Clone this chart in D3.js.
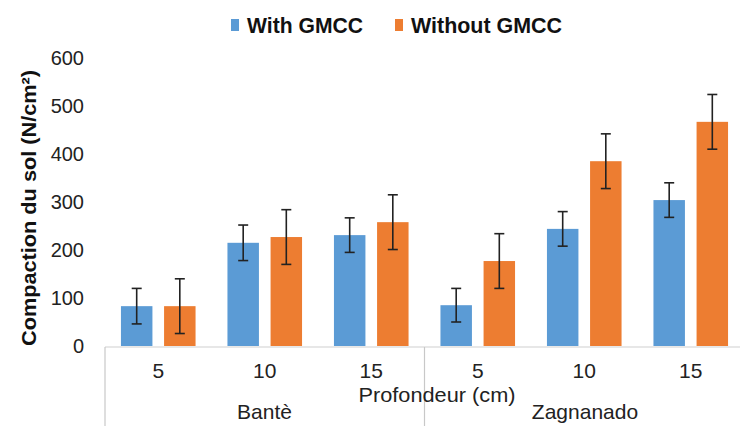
<!DOCTYPE html>
<html><head><meta charset="utf-8">
<script src="https://cdn.jsdelivr.net/npm/d3@7"></script>
<style>body{margin:0;background:#fff}svg{display:block}</style>
</head><body>
<script>
const sites = ["Bantè", "Zagnanado"];
const depths = ["5", "10", "15"];
const series = ["With GMCC", "Without GMCC"];
const withGMCC = [83, 215, 231, 85, 244, 304];
const withoutGMCC = [83, 227, 258, 177, 385, 467];
const errWith = [37, 37, 36, 35, 36, 36];
const errWithout = [57, 57, 57, 57, 57, 57];
const yTicks = [0, 100, 200, 300, 400, 500, 600];
const colors = ["#5B9BD5", "#ED7D31"];

(function () {
const W = 740, H = 430;
const svg = d3.select("body").append("svg").attr("width", W).attr("height", H);
const pLeft = 105, pRight = 744, pTop = 58, pBottom = 346;
const font = "Liberation Sans, Arial, sans-serif";

const cats = [];
sites.forEach((s, si) => depths.forEach((d, di) => cats.push({site: s, depth: d, i: si * 3 + di})));

const x = d3.scaleBand().domain(cats.map(c => c.i)).range([pLeft, pRight]).paddingInner(0).paddingOuter(0);
const xs = d3.scaleBand().domain(series).range([0, x.bandwidth()]).paddingInner(0.27).paddingOuter(0.37);
const y = d3.scaleLinear().domain([0, 600]).range([pBottom, pTop]);

svg.append("g").selectAll("text").data(yTicks).join("text")
  .attr("x", 84).attr("y", d => y(d)).attr("dy", "0.36em")
  .attr("text-anchor", "end").attr("font-family", font).attr("font-size", 20).attr("fill", "#222")
  .text(d => d);

svg.append("text").attr("transform", `translate(36,208) rotate(-90)`)
  .attr("text-anchor", "middle").attr("font-family", font).attr("font-size", 20).attr("font-weight", "bold").attr("fill", "#111")
  .attr("textLength", 276).attr("lengthAdjust", "spacingAndGlyphs")
  .text("Compaction du sol (N/cm²)");

const vals = [withGMCC, withoutGMCC];
const errs = [errWith, errWithout];
series.forEach((s, k) => {
  const g = svg.append("g");
  g.selectAll("rect").data(cats).join("rect")
    .attr("x", c => x(c.i) + xs(s)).attr("width", xs.bandwidth())
    .attr("y", c => y(vals[k][c.i])).attr("height", c => y(0) - y(vals[k][c.i]))
    .attr("fill", colors[k]);
});
series.forEach((s, k) => {
  const e = svg.append("g").attr("stroke", "#222").attr("stroke-width", 1.6);
  cats.forEach(c => {
    const cx = x(c.i) + xs(s) + xs.bandwidth() / 2;
    const v = vals[k][c.i], er = errs[k][c.i];
    e.append("line").attr("x1", cx).attr("x2", cx).attr("y1", y(v + er)).attr("y2", y(v - er));
    e.append("line").attr("x1", cx - 5).attr("x2", cx + 5).attr("y1", y(v + er)).attr("y2", y(v + er));
    e.append("line").attr("x1", cx - 5).attr("x2", cx + 5).attr("y1", y(v - er)).attr("y2", y(v - er));
  });
});

svg.append("line").attr("x1", pLeft).attr("x2", pRight).attr("y1", pBottom + 1).attr("y2", pBottom + 1)
  .attr("stroke", "#d0d0d0").attr("stroke-width", 1.2);
[0, 3, 6].forEach(i => {
  const xx = i < 6 ? x(i) : pRight;
  svg.append("line").attr("x1", xx).attr("x2", xx).attr("y1", pBottom + 1).attr("y2", 426)
    .attr("stroke", "#c8c8c8").attr("stroke-width", 1.2);
});
svg.append("g").selectAll("text").data(cats).join("text")
  .attr("x", c => x(c.i) + x.bandwidth() / 2).attr("y", 378)
  .attr("text-anchor", "middle").attr("font-family", font).attr("font-size", 21).attr("fill", "#222")
  .text(c => c.depth);
svg.append("g").selectAll("text").data(sites).join("text")
  .attr("x", (s, i) => i === 0 ? 264.5 : 585).attr("y", 419)
  .attr("text-anchor", "middle").attr("font-family", font).attr("font-size", 21).attr("fill", "#222")
  .text(d => d);
svg.append("text").attr("x", 437).attr("y", 402).attr("text-anchor", "middle")
  .attr("font-family", font).attr("font-size", 20).attr("fill", "#222")
  .attr("textLength", 157).attr("lengthAdjust", "spacingAndGlyphs").text("Profondeur (cm)");

const legX = [231, 395];
const legW = [116, 151];
series.forEach((s, k) => {
  svg.append("rect").attr("x", legX[k]).attr("y", 19).attr("width", 8).attr("height", 12).attr("fill", colors[k]);
  svg.append("text").attr("x", legX[k] + 16).attr("y", 33).attr("font-family", font).attr("font-size", 21.5)
    .attr("font-weight", "bold").attr("fill", "#111")
    .attr("textLength", legW[k]).attr("lengthAdjust", "spacingAndGlyphs").text(s);
});
})();
</script>
</body></html>
